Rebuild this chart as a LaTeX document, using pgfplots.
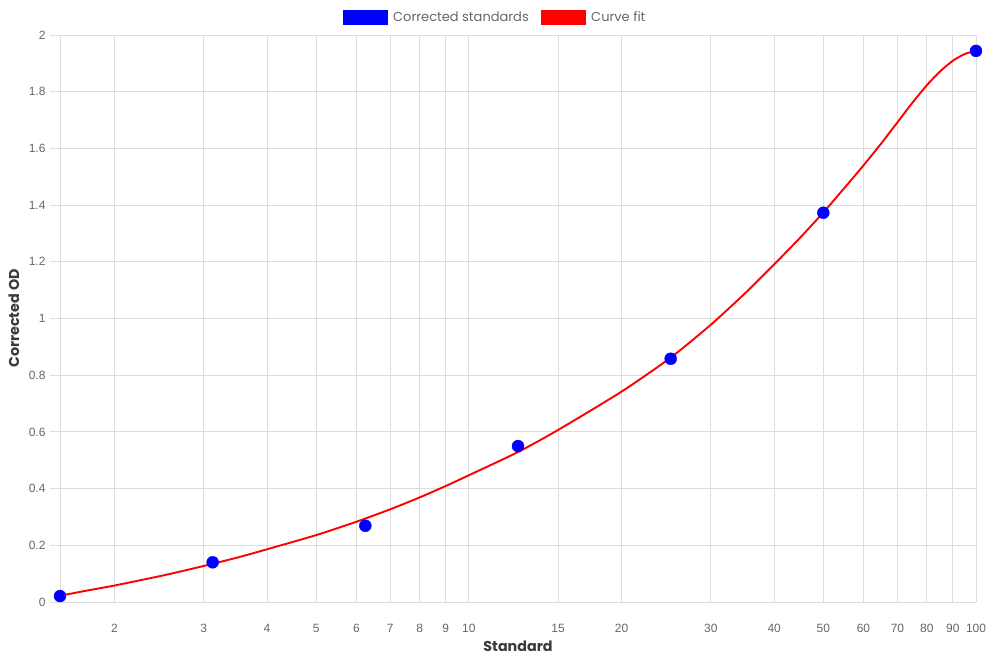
\documentclass[border=0pt]{standalone}
\usepackage{fontspec}
\setmainfont{Liberation Sans}
\newfontfamily\poppins{Poppins}
\usepackage{pgfplots}
\pgfplotsset{compat=1.18}
\definecolor{gridc}{HTML}{DDDDDD}
\definecolor{tickc}{HTML}{666666}
\definecolor{titlec}{HTML}{3A3A3A}
\begin{document}
\begin{tikzpicture}
\begin{axis}[
  scale only axis,
  width=916pt, height=567pt,
  xmode=log, log basis x=10,
  xmin=1.5625, xmax=100, ymin=0, ymax=2,
  xtick={2,3,4,5,6,7,8,9,10,15,20,30,40,50,60,70,80,90,100},
  xticklabels={2,3,4,5,6,7,8,9,10,15,20,30,40,50,60,70,80,90,100},
  ytick={0,0.2,0.4,0.6,0.8,1,1.2,1.4,1.6,1.8,2},
  yticklabels={0,0.2,0.4,0.6,0.8,1,1.2,1.4,1.6,1.8,2},
  grid=major,
  major grid style={gridc, line width=0.8pt},
  axis line style={gridc, line width=0.8pt},
  axis x line*=bottom, axis y line*=left,
  tick align=outside,
  xtick style={draw=none},
  ytick style={gridc, line width=0.8pt},
  major tick length=10pt,
  ticklabel style={font=\fontsize{12}{14}\selectfont, text=tickc},
  xticklabel style={yshift=-9pt},
  yticklabel style={xshift=-1pt},
  /pgf/number format/assume math mode=true,
  xlabel={\poppins\bfseries Standard},
  ylabel={\poppins\bfseries Corrected OD},
  label style={font=\fontsize{14.3}{16}\selectfont, text=titlec},
  xlabel style={at={([yshift=-44pt]axis description cs:0.5,0)}, anchor=center},
  ylabel style={at={([xshift=-46pt]axis description cs:0,0.5)}, anchor=center},
  clip=false,
  legend columns=2,
  legend style={at={([yshift=10pt]axis description cs:0.475,1)}, anchor=south, draw=none, fill=none,
    font=\poppins\fontsize{13}{15}\selectfont, text=tickc, inner sep=0pt,
    /tikz/every odd column/.append style={column sep=4pt},
    /tikz/every even column/.append style={column sep=10pt}},
]
\addlegendimage{legend image code/.code={\fill[blue] (0pt,-7pt) rectangle (44pt,7pt);}}
\addlegendentry{Corrected standards}
\addlegendimage{legend image code/.code={\fill[red] (0pt,-7pt) rectangle (44pt,7pt);}}
\addlegendentry{Curve fit}
\addplot[red, line width=1.9pt, smooth, tension=0.4, forget plot] coordinates {
(1.5625,0.022) (1.75,0.039) (2,0.058) (2.5,0.094) (3,0.127) (3.5,0.157) (4,0.186) (5,0.236)
(6,0.283) (7,0.327) (8,0.369) (9,0.409) (10,0.447) (12.5,0.529) (15,0.607) (20,0.742)
(25,0.862) (30,0.978) (35,1.088) (40,1.191) (45,1.285) (50,1.374) (55,1.460) (60,1.540)
(65,1.617) (70,1.692) (75,1.762) (80,1.823) (85,1.872) (90,1.909) (95,1.933) (100,1.944)
};
\addplot[only marks, mark=*, mark size=6pt, mark options={fill=blue, draw=blue}, forget plot] coordinates {
(1.5625,0.021) (3.125,0.140) (6.25,0.269) (12.5,0.550) (25,0.858) (50,1.373) (100,1.944)
};
\end{axis}
\path[use as bounding box] (-60pt,-58pt) rectangle (930pt,602pt);
\end{tikzpicture}
\end{document}
